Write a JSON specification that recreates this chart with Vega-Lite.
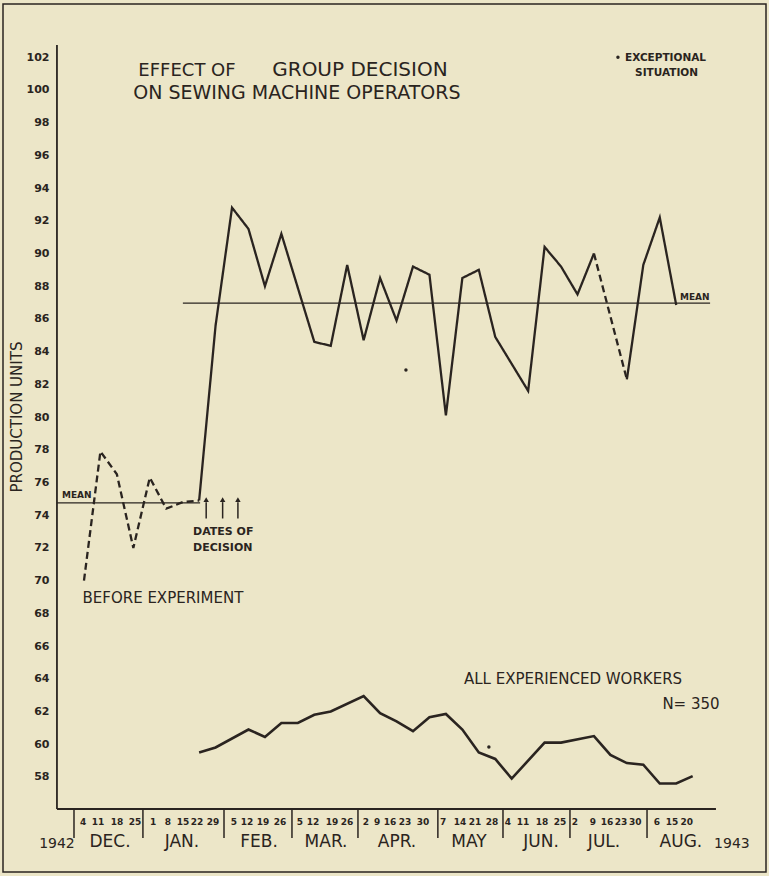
{
  "$schema": "https://vega.github.io/schema/vega-lite/v6.json",
  "width": 763,
  "height": 868,
  "autosize": {"type": "none"},
  "padding": {"left": 3, "top": 4, "right": 3, "bottom": 4},
  "background": "#ece6c8",
  "config": {
    "view": {"stroke": "#2a2420", "strokeWidth": 1.5},
    "text": {"font": "DejaVu Sans", "color": "#2a2420"},
    "axis": {"labelFont": "DejaVu Sans"}
  },
  "datasets": {
    "main": [
      {"d": "1942-12-04", "v": 70.0, "seg": "a", "kind": "dashed"},
      {"d": "1942-12-11", "v": 77.9, "seg": "a", "kind": "dashed"},
      {"d": "1942-12-18", "v": 76.5, "seg": "a", "kind": "dashed"},
      {"d": "1942-12-25", "v": 72.0, "seg": "a", "kind": "dashed"},
      {"d": "1943-01-01", "v": 76.3, "seg": "a", "kind": "dashed"},
      {"d": "1943-01-08", "v": 74.4, "seg": "a", "kind": "dashed"},
      {"d": "1943-01-15", "v": 74.8, "seg": "a", "kind": "dashed"},
      {"d": "1943-01-22", "v": 74.9, "seg": "a", "kind": "dashed"},
      {"d": "1943-01-22", "v": 74.9, "seg": "b", "kind": "solid"},
      {"d": "1943-01-29", "v": 85.6, "seg": "b", "kind": "solid"},
      {"d": "1943-02-05", "v": 92.8, "seg": "b", "kind": "solid"},
      {"d": "1943-02-12", "v": 91.5, "seg": "b", "kind": "solid"},
      {"d": "1943-02-19", "v": 88.0, "seg": "b", "kind": "solid"},
      {"d": "1943-02-26", "v": 91.2, "seg": "b", "kind": "solid"},
      {"d": "1943-03-12", "v": 84.6, "seg": "b", "kind": "solid"},
      {"d": "1943-03-19", "v": 84.35, "seg": "b", "kind": "solid"},
      {"d": "1943-03-26", "v": 89.3, "seg": "b", "kind": "solid"},
      {"d": "1943-04-02", "v": 84.7, "seg": "b", "kind": "solid"},
      {"d": "1943-04-09", "v": 88.5, "seg": "b", "kind": "solid"},
      {"d": "1943-04-16", "v": 85.9, "seg": "b", "kind": "solid"},
      {"d": "1943-04-23", "v": 89.2, "seg": "b", "kind": "solid"},
      {"d": "1943-04-30", "v": 88.7, "seg": "b", "kind": "solid"},
      {"d": "1943-05-07", "v": 80.1, "seg": "b", "kind": "solid"},
      {"d": "1943-05-14", "v": 88.5, "seg": "b", "kind": "solid"},
      {"d": "1943-05-21", "v": 89.0, "seg": "b", "kind": "solid"},
      {"d": "1943-05-28", "v": 84.9, "seg": "b", "kind": "solid"},
      {"d": "1943-06-11", "v": 81.6, "seg": "b", "kind": "solid"},
      {"d": "1943-06-18", "v": 90.4, "seg": "b", "kind": "solid"},
      {"d": "1943-06-25", "v": 89.2, "seg": "b", "kind": "solid"},
      {"d": "1943-07-02", "v": 87.5, "seg": "b", "kind": "solid"},
      {"d": "1943-07-09", "v": 90.0, "seg": "b", "kind": "solid"},
      {"d": "1943-07-09", "v": 90.0, "seg": "c", "kind": "dashed"},
      {"d": "1943-07-23", "v": 82.3, "seg": "c", "kind": "dashed"},
      {"d": "1943-07-23", "v": 82.3, "seg": "d", "kind": "solid"},
      {"d": "1943-07-30", "v": 89.3, "seg": "d", "kind": "solid"},
      {"d": "1943-08-06", "v": 92.2, "seg": "d", "kind": "solid"},
      {"d": "1943-08-13", "v": 86.85, "seg": "d", "kind": "solid"}
    ],
    "exp": [
      {"d": "1943-01-22", "v": 59.5},
      {"d": "1943-01-29", "v": 59.8},
      {"d": "1943-02-12", "v": 60.9},
      {"d": "1943-02-19", "v": 60.45},
      {"d": "1943-02-26", "v": 61.3},
      {"d": "1943-03-05", "v": 61.3},
      {"d": "1943-03-12", "v": 61.8},
      {"d": "1943-03-19", "v": 62.0},
      {"d": "1943-04-02", "v": 62.95},
      {"d": "1943-04-09", "v": 61.9},
      {"d": "1943-04-16", "v": 61.4},
      {"d": "1943-04-23", "v": 60.8},
      {"d": "1943-04-30", "v": 61.65},
      {"d": "1943-05-07", "v": 61.85},
      {"d": "1943-05-14", "v": 60.9},
      {"d": "1943-05-21", "v": 59.5},
      {"d": "1943-05-28", "v": 59.1},
      {"d": "1943-06-04", "v": 57.9},
      {"d": "1943-06-18", "v": 60.1},
      {"d": "1943-06-25", "v": 60.1},
      {"d": "1943-07-09", "v": 60.5},
      {"d": "1943-07-16", "v": 59.35},
      {"d": "1943-07-23", "v": 58.85},
      {"d": "1943-07-30", "v": 58.75},
      {"d": "1943-08-06", "v": 57.6},
      {"d": "1943-08-13", "v": 57.6},
      {"d": "1943-08-20", "v": 58.05}
    ],
    "means": [
      {"d": "1942-11-22T12:00:00Z", "d2": "1943-01-22T10:00:00Z", "v": 74.75},
      {"d": "1943-01-15T02:00:00Z", "d2": "1943-08-27T10:00:00Z", "v": 86.97}
    ],
    "yline": [{"d": "1942-11-22T12:00:00Z", "v": 56.04, "v2": 102.74}],
    "xline": [{"d": "1942-11-22T12:00:00Z", "d2": "1943-08-29T22:00:00Z", "v": 56.04}],
    "seps": [
      {"d": "1942-11-29T18:00:00Z", "v": 56.04, "v2": 54.27},
      {"d": "1942-12-29T02:00:00Z", "v": 56.04, "v2": 54.27},
      {"d": "1943-02-01T14:00:00Z", "v": 56.04, "v2": 54.27},
      {"d": "1943-03-02T12:00:00Z", "v": 56.04, "v2": 54.27},
      {"d": "1943-03-30T14:00:00Z", "v": 56.04, "v2": 54.27},
      {"d": "1943-05-03T14:00:00Z", "v": 56.04, "v2": 54.27},
      {"d": "1943-05-31T07:00:00Z", "v": 56.04, "v2": 54.27},
      {"d": "1943-06-28T19:00:00Z", "v": 56.04, "v2": 54.27},
      {"d": "1943-07-31T14:00:00Z", "v": 56.04, "v2": 54.27}
    ],
    "decisions": [
      {"d": "1943-01-25", "v": 73.8, "v2": 74.8, "tip": 74.95},
      {"d": "1943-02-01", "v": 73.8, "v2": 74.8, "tip": 74.95},
      {"d": "1943-02-07T12:00:00Z", "v": 73.8, "v2": 74.8, "tip": 74.95}
    ],
    "exceptional": [
      {"d": "1943-04-20", "v": 82.88},
      {"d": "1943-05-25T07:00:00Z", "v": 59.83},
      {"d": "1943-07-19T05:00:00Z", "v": 102.0}
    ],
    "weeks": [
      {"d": "1942-12-03T14:00:00Z", "v": 55.07, "t": "4"},
      {"d": "1942-12-09T23:00:00Z", "v": 55.07, "t": "11"},
      {"d": "1942-12-18T01:00:00Z", "v": 55.07, "t": "18"},
      {"d": "1942-12-25T17:00:00Z", "v": 55.07, "t": "25"},
      {"d": "1943-01-02T09:00:00Z", "v": 55.07, "t": "1"},
      {"d": "1943-01-08T18:00:00Z", "v": 55.07, "t": "8"},
      {"d": "1943-01-15T03:00:00Z", "v": 55.07, "t": "15"},
      {"d": "1943-01-21T02:00:00Z", "v": 55.07, "t": "22"},
      {"d": "1943-01-27T22:00:00Z", "v": 55.07, "t": "29"},
      {"d": "1943-02-05T20:00:00Z", "v": 55.07, "t": "5"},
      {"d": "1943-02-11T09:00:00Z", "v": 55.07, "t": "12"},
      {"d": "1943-02-18T04:00:00Z", "v": 55.07, "t": "19"},
      {"d": "1943-02-25T10:00:00Z", "v": 55.07, "t": "26"},
      {"d": "1943-03-05T22:00:00Z", "v": 55.07, "t": "5"},
      {"d": "1943-03-11T11:00:00Z", "v": 55.07, "t": "12"},
      {"d": "1943-03-19T12:00:00Z", "v": 55.07, "t": "19"},
      {"d": "1943-03-25T22:00:00Z", "v": 55.07, "t": "26"},
      {"d": "1943-04-03T00:00:00Z", "v": 55.07, "t": "2"},
      {"d": "1943-04-07T17:00:00Z", "v": 55.07, "t": "9"},
      {"d": "1943-04-13T05:00:00Z", "v": 55.07, "t": "16"},
      {"d": "1943-04-19T14:00:00Z", "v": 55.07, "t": "23"},
      {"d": "1943-04-27T07:00:00Z", "v": 55.07, "t": "30"},
      {"d": "1943-05-05T19:00:00Z", "v": 55.07, "t": "7"},
      {"d": "1943-05-13T00:00:00Z", "v": 55.07, "t": "14"},
      {"d": "1943-05-19T10:00:00Z", "v": 55.07, "t": "21"},
      {"d": "1943-05-26T14:00:00Z", "v": 55.07, "t": "28"},
      {"d": "1943-06-02T10:00:00Z", "v": 55.07, "t": "4"},
      {"d": "1943-06-08T19:00:00Z", "v": 55.07, "t": "11"},
      {"d": "1943-06-16T22:00:00Z", "v": 55.07, "t": "18"},
      {"d": "1943-06-24T13:00:00Z", "v": 55.07, "t": "25"},
      {"d": "1943-06-30T22:00:00Z", "v": 55.07, "t": "2"},
      {"d": "1943-07-08T14:00:00Z", "v": 55.07, "t": "9"},
      {"d": "1943-07-14T13:00:00Z", "v": 55.07, "t": "16"},
      {"d": "1943-07-20T12:00:00Z", "v": 55.07, "t": "23"},
      {"d": "1943-07-26T14:00:00Z", "v": 55.07, "t": "30"},
      {"d": "1943-08-04T19:00:00Z", "v": 55.07, "t": "6"},
      {"d": "1943-08-11T05:00:00Z", "v": 55.07, "t": "15"},
      {"d": "1943-08-17T12:00:00Z", "v": 55.07, "t": "20"}
    ],
    "months": [
      {"d": "1942-12-15T02:00:00Z", "v": 53.72, "t": "DEC."},
      {"d": "1943-01-14T17:00:00Z", "v": 53.72, "t": "JAN."},
      {"d": "1943-02-16T12:00:00Z", "v": 53.72, "t": "FEB."},
      {"d": "1943-03-17T00:00:00Z", "v": 53.72, "t": "MAR."},
      {"d": "1943-04-16T05:00:00Z", "v": 53.72, "t": "APR."},
      {"d": "1943-05-16T19:00:00Z", "v": 53.72, "t": "MAY"},
      {"d": "1943-06-16T12:00:00Z", "v": 53.72, "t": "JUN."},
      {"d": "1943-07-13T07:00:00Z", "v": 53.72, "t": "JUL."},
      {"d": "1943-08-15T00:00:00Z", "v": 53.72, "t": "AUG."}
    ],
    "years": [
      {"d": "1942-11-22T12:00:00Z", "v": 53.68, "t": "1942"},
      {"d": "1943-09-05T17:00:00Z", "v": 53.68, "t": "1943"}
    ],
    "title18": [
      {"d": "1943-01-16T20:00:00Z", "v": 100.85, "t": "EFFECT OF"}
    ],
    "title20": [
      {"d": "1943-03-31T10:00:00Z", "v": 100.85, "t": "GROUP DECISION"}
    ],
    "title19": [
      {"d": "1943-03-04T14:00:00Z", "v": 99.44, "t": "ON SEWING MACHINE OPERATORS"}
    ],
    "legendText": [
      {"d": "1943-07-22T05:00:00Z", "v": 101.77, "t": "EXCEPTIONAL"},
      {"d": "1943-07-26T12:00:00Z", "v": 100.85, "t": "SITUATION"}
    ],
    "yTitle": [
      {"d": "1942-11-05T12:00:00Z", "v": 80.0, "t": "PRODUCTION UNITS"}
    ],
    "meanText": [
      {"d": "1942-11-24T15:00:00Z", "v": 75.05, "t": "MEAN"},
      {"d": "1943-08-14T14:00:00Z", "v": 87.16, "t": "MEAN"}
    ],
    "decisionText": [
      {"d": "1943-01-19T10:00:00Z", "v": 72.79, "t": "DATES OF"},
      {"d": "1943-01-19T10:00:00Z", "v": 71.81, "t": "DECISION"}
    ],
    "notes": [
      {"d": "1943-01-06T14:00:00Z", "v": 68.64, "t": "BEFORE EXPERIMENT"},
      {"d": "1943-06-30T02:00:00Z", "v": 63.68, "t": "ALL EXPERIENCED WORKERS"},
      {"d": "1943-08-19T07:00:00Z", "v": 62.16, "t": "N= 350"}
    ]
  },
  "encoding": {
    "x": {
      "field": "d",
      "type": "temporal",
      "scale": {
        "type": "utc",
        "domain": [
          {"year": 1942, "month": 10, "date": 30, "hours": 13, "utc": true},
          {"year": 1943, "month": 9, "date": 20, "hours": 5, "utc": true}
        ]
      },
      "axis": null
    },
    "y": {
      "field": "v",
      "type": "quantitative",
      "scale": {"domain": [52.19, 105.25], "nice": false, "zero": false},
      "axis": {
        "title": null,
        "offset": -54,
        "domain": false,
        "ticks": false,
        "grid": false,
        "labelPadding": 8,
        "labelFontSize": 11,
        "labelFontWeight": "bold",
        "labelColor": "#2a2420",
        "values": [58, 60, 62, 64, 66, 68, 70, 72, 74, 76, 78, 80, 82, 84, 86, 88, 90, 92, 94, 96, 98, 100, 102]
      }
    }
  },
  "layer": [
    {
      "data": {"name": "yline"},
      "mark": {"type": "rule", "color": "#2a2420", "strokeWidth": 1.8},
      "encoding": {"y2": {"field": "v2"}}
    },
    {
      "data": {"name": "xline"},
      "mark": {"type": "rule", "color": "#2a2420", "strokeWidth": 1.8},
      "encoding": {"x2": {"field": "d2"}}
    },
    {
      "data": {"name": "seps"},
      "mark": {"type": "rule", "color": "#2a2420", "strokeWidth": 1.5},
      "encoding": {"y2": {"field": "v2"}}
    },
    {
      "data": {"name": "means"},
      "mark": {"type": "rule", "color": "#2a2420", "strokeWidth": 1.3},
      "encoding": {"x2": {"field": "d2"}}
    },
    {
      "data": {"name": "main"},
      "mark": {"type": "line", "color": "#2a2420", "strokeWidth": 2.3},
      "encoding": {
        "detail": {"field": "seg", "type": "nominal"},
        "strokeDash": {
          "field": "kind",
          "type": "nominal",
          "scale": {"domain": ["solid", "dashed"], "range": [[1, 0], [7, 4]]},
          "legend": null
        }
      }
    },
    {
      "data": {"name": "exp"},
      "mark": {"type": "line", "color": "#2a2420", "strokeWidth": 2.6}
    },
    {
      "data": {"name": "decisions"},
      "mark": {"type": "rule", "color": "#2a2420", "strokeWidth": 1.5},
      "encoding": {"y2": {"field": "v2"}}
    },
    {
      "data": {"name": "decisions"},
      "mark": {"type": "point", "shape": "triangle-up", "filled": true, "size": 30, "color": "#2a2420", "opacity": 1},
      "encoding": {"y": {"field": "tip", "type": "quantitative"}}
    },
    {
      "data": {"name": "exceptional"},
      "mark": {"type": "point", "shape": "circle", "filled": true, "size": 12, "color": "#2a2420", "opacity": 1}
    },
    {
      "data": {"name": "weeks"},
      "mark": {"type": "text", "fontSize": 9, "fontWeight": "bold", "align": "center", "baseline": "alphabetic"},
      "encoding": {"text": {"field": "t"}}
    },
    {
      "data": {"name": "months"},
      "mark": {"type": "text", "fontSize": 17, "align": "center", "baseline": "alphabetic"},
      "encoding": {"text": {"field": "t"}}
    },
    {
      "data": {"name": "years"},
      "mark": {"type": "text", "fontSize": 14, "align": "center", "baseline": "alphabetic"},
      "encoding": {"text": {"field": "t"}}
    },
    {
      "data": {"name": "title18"},
      "mark": {"type": "text", "fontSize": 18, "align": "center", "baseline": "alphabetic"},
      "encoding": {"text": {"field": "t"}}
    },
    {
      "data": {"name": "title20"},
      "mark": {"type": "text", "fontSize": 20, "align": "center", "baseline": "alphabetic"},
      "encoding": {"text": {"field": "t"}}
    },
    {
      "data": {"name": "title19"},
      "mark": {"type": "text", "fontSize": 19, "align": "center", "baseline": "alphabetic"},
      "encoding": {"text": {"field": "t"}}
    },
    {
      "data": {"name": "legendText"},
      "mark": {"type": "text", "fontSize": 10.5, "fontWeight": "bold", "align": "left", "baseline": "alphabetic"},
      "encoding": {"text": {"field": "t"}}
    },
    {
      "data": {"name": "yTitle"},
      "mark": {"type": "text", "fontSize": 15, "align": "center", "baseline": "middle", "angle": 270},
      "encoding": {"text": {"field": "t"}}
    },
    {
      "data": {"name": "meanText"},
      "mark": {"type": "text", "fontSize": 9, "fontWeight": "bold", "align": "left", "baseline": "alphabetic"},
      "encoding": {"text": {"field": "t"}}
    },
    {
      "data": {"name": "decisionText"},
      "mark": {"type": "text", "fontSize": 11, "fontWeight": "bold", "align": "left", "baseline": "alphabetic"},
      "encoding": {"text": {"field": "t"}}
    },
    {
      "data": {"name": "notes"},
      "mark": {"type": "text", "fontSize": 15, "align": "center", "baseline": "alphabetic"},
      "encoding": {"text": {"field": "t"}}
    }
  ]
}
